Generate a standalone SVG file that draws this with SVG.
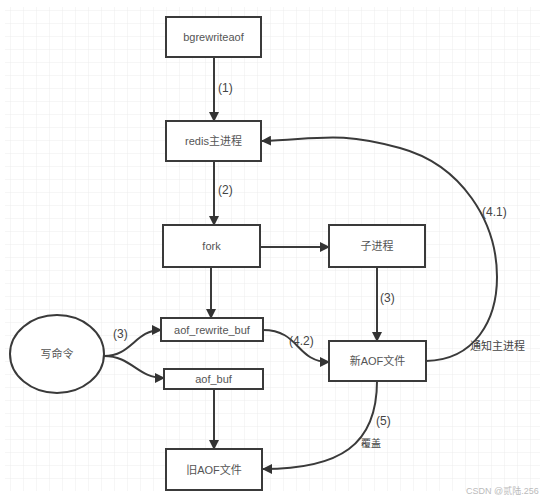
<svg xmlns="http://www.w3.org/2000/svg" width="547" height="500" viewBox="0 0 547 500">
<defs>
<pattern id="grid" x="-2" y="-2" width="13" height="13" patternUnits="userSpaceOnUse">
<path d="M13,0 V13 M0,13 H13" fill="none" stroke="#ececec" stroke-width="1"/>
</pattern>
<marker id="arr" viewBox="0 0 10 10" refX="9" refY="5" markerWidth="10" markerHeight="10" markerUnits="userSpaceOnUse" orient="auto">
<path d="M0,0 L10,5 L0,10 Z" fill="#333"/>
</marker>
<style>
.box{fill:#fff;stroke:#3a3a3a;stroke-width:2}
.t{font-family:"Liberation Sans","Noto Sans CJK SC",sans-serif;font-size:11px;fill:#555;text-anchor:middle;dominant-baseline:central}
.lbl{font-family:"Liberation Sans","Noto Sans CJK SC",sans-serif;font-size:12px;fill:#444}
.c{fill:none;stroke:#3a3a3a;stroke-width:2;marker-end:url(#arr)}
</style>
</defs>
<rect width="547" height="500" fill="#fff"/>
<rect x="5" y="7" width="535" height="484" fill="url(#grid)"/>

<g id="connectors">
<path class="c" d="M214,57 V121"/>
<path class="c" d="M214,161 V225"/>
<path class="c" d="M260,247 H329"/>
<path class="c" d="M211,267 V318"/>
<path class="c" d="M377,267 V341"/>
<path class="c" d="M214,389 V449"/>
<path class="c" d="M104,356 C132,356 135,330 161,330"/>
<path class="c" d="M104,356 C132,356 137,378 164,378"/>
<path class="c" d="M263,330 C300,330 296,362 329,362"/>
<path class="c" d="M426,361 C475,360 497,320 497,277 C497,222 462,165 400,148 S320,139 262,141"/>
<path class="c" d="M377,381 C377,445 340,469 263,469"/>
<text class="lbl" x="218" y="92">(1)</text>
<text class="lbl" x="218" y="194">(2)</text>
<text class="lbl" x="113" y="338">(3)</text>
<text class="lbl" x="380" y="302">(3)</text>
<text class="lbl" x="289" y="345">(4.2)</text>
<text class="lbl" x="482" y="216">(4.1)</text>
<text class="lbl" x="470" y="350" style="font-size:11px">通知主进程</text>
<text class="lbl" x="376" y="425">(5)</text>
<text class="lbl" x="361" y="447" style="font-size:10px">覆盖</text>
</g>

<g id="bgrewriteaof"><rect class="box" x="166" y="17" width="95" height="40"/><text class="t" x="213.5" y="37">bgrewriteaof</text></g>
<g id="redis"><rect class="box" x="166" y="121" width="95" height="40"/><text class="t" x="213.5" y="141">redis主进程</text></g>
<g id="fork"><rect class="box" x="163" y="225" width="97" height="42"/><text class="t" x="211.5" y="246">fork</text></g>
<g id="child"><rect class="box" x="329" y="225" width="96" height="42"/><text class="t" x="377" y="246">子进程</text></g>
<g id="write"><ellipse cx="57" cy="354" rx="47" ry="39" fill="#fff" stroke="#3a3a3a" stroke-width="2"/><text class="t" x="57" y="354">写命令</text></g>
<g id="aof_rewrite_buf"><rect class="box" x="161" y="318" width="102" height="23"/><text class="t" x="212" y="330">aof_rewrite_buf</text></g>
<g id="aof_buf"><rect class="box" x="164" y="369" width="99" height="20"/><text class="t" x="213.5" y="379">aof_buf</text></g>
<g id="newaof"><rect class="box" x="329" y="341" width="97" height="40"/><text class="t" x="377.5" y="361">新AOF文件</text></g>
<g id="oldaof"><rect class="box" x="166" y="449" width="96" height="41"/><text class="t" x="214" y="469.5">旧AOF文件</text></g>

<text x="466" y="494" style="font-family:'Liberation Sans','Noto Sans CJK SC',sans-serif;font-size:9px;fill:#bbb">CSDN @贰陆.256</text>
</svg>
